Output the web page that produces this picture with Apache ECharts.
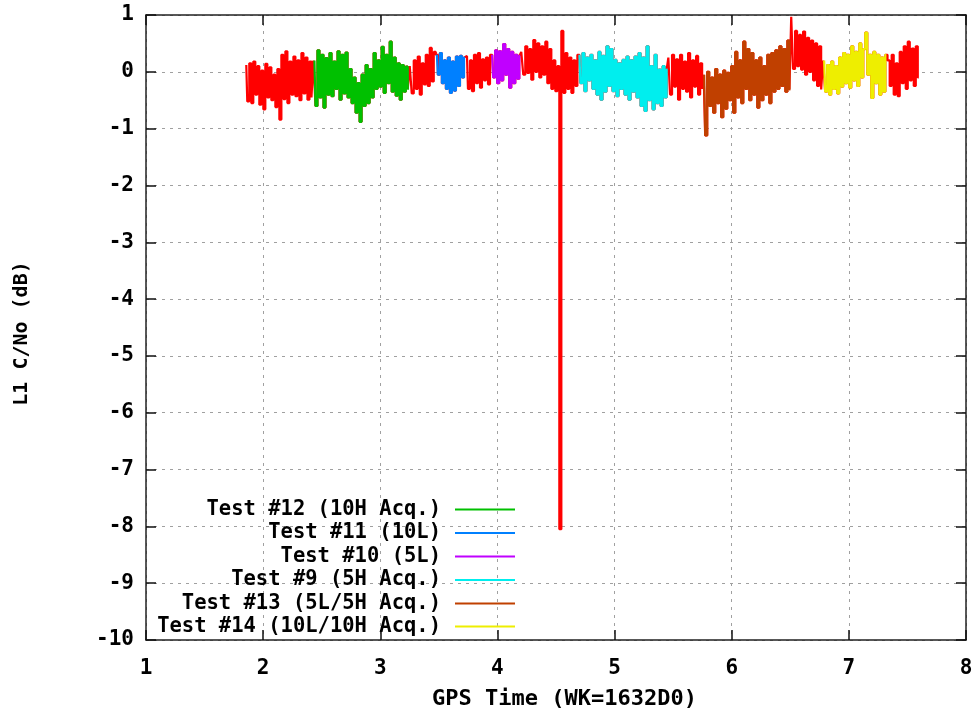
<!DOCTYPE html>
<html>
<head>
<meta charset="utf-8">
<script src="https://cdn.jsdelivr.net/npm/echarts@6/dist/echarts.min.js"></script>
<style>html,body{margin:0;padding:0;background:#fff}#c{width:976px;height:715px}</style>
</head>
<body>
<div id="c"></div>
<script>
// ---- axis ticks ----
const xTicks = [1, 2, 3, 4, 5, 6, 7, 8];
const yTicks = [1, 0, -1, -2, -3, -4, -5, -6, -7, -8, -9, -10];

// ---- series names (legend) ----
const names = ['Test #12 (10H Acq.)', 'Test #11 (10L)', 'Test #10 (5L)', 'Test #9 (5H Acq.)', 'Test #13 (5L/5H Acq.)', 'Test #14 (10L/10H Acq.)'];
const colors = ['#00c000', '#0080ff', '#c000ff', '#00eeee', '#c04000', '#eeee00'];

// ---- time spans (GPS time, days) of each recorded segment ----
const red1Span = [1.856, 2.421];
const greenSpan = [2.438, 3.243];
const red2Span = [3.260, 3.465];
const blueSpan = [3.483, 3.723];
const red3Span = [3.740, 3.945];
const purpleSpan = [3.955, 4.195];
const red4Span = [4.212, 4.691];
const cyanSpan = [4.700, 5.453];
const red5Span = [5.465, 5.756];
const brownSpan = [5.765, 6.501];
const red6Span = [6.515, 6.772];
const yellowSpan = [6.789, 7.320];
const red7Span = [7.340, 7.597];

// ---- L1 C/No values (dB) ----
const red1 = [0.12,-0.52,0.15,-0.55,0.18,-0.40,0.10,-0.58,0.02,-0.66,0.14,-0.45,0.08,-0.50,-0.05,-0.62,0.05,-0.84,0.30,-0.48,0.36,-0.55,0.18,-0.40,0.27,-0.43,0.20,-0.50,0.33,-0.38,0.25,-0.49,0.18,-0.45];
const green = [0.20,-0.60,0.38,-0.45,0.30,-0.63,0.24,-0.40,0.33,-0.43,0.18,-0.30,0.36,-0.49,0.30,-0.38,0.34,-0.45,0.05,-0.55,-0.10,-0.72,-0.20,-0.88,-0.05,-0.60,0.12,-0.55,0.05,-0.45,0.33,-0.30,0.20,-0.26,0.44,-0.37,0.30,-0.20,0.53,-0.35,0.25,-0.42,0.15,-0.49,0.12,-0.35,0.09,-0.30];
const red2 = [0.10,-0.38,0.20,-0.30,0.27,-0.40,0.15,-0.22,0.30,-0.25,0.42,-0.17,0.35];
const blue = [0.30,-0.05,0.33,-0.20,0.20,-0.30,0.25,-0.37,0.18,-0.33,0.27,-0.25,0.28,-0.10,0.25];
const red3 = [0.28,-0.30,0.20,-0.34,0.30,-0.20,0.33,-0.28,0.22,-0.15,0.25,-0.22,0.30];
const purple = [0.30,-0.10,0.38,-0.20,0.36,-0.15,0.49,-0.05,0.40,-0.28,0.35,-0.20,0.30,-0.12,0.28];
const red4 = [0.35,-0.05,0.45,-0.02,0.40,-0.14,0.56,0.00,0.50,-0.10,0.45,-0.05,0.53,-0.20,0.40,-0.30,0.20,-0.34,0.10,-8.05,0.72,-0.37,0.33,-0.30,0.25,-0.37,0.20,-0.25,0.30];
const cyan = [0.30,-0.20,0.33,-0.34,0.25,-0.15,0.30,-0.30,0.20,-0.40,0.35,-0.49,0.28,-0.35,0.45,-0.25,0.40,-0.34,0.21,-0.43,0.15,-0.30,0.21,-0.40,0.27,-0.49,0.20,-0.35,0.27,-0.45,0.33,-0.60,0.25,-0.69,0.45,-0.50,0.10,-0.66,0.30,-0.55,0.04,-0.60,0.10,-0.45,0.04];
const red5 = [0.25,-0.40,0.30,-0.26,0.22,-0.49,0.30,-0.30,0.18,-0.35,0.33,-0.45,0.20,-0.26,0.28,-0.40,0.15,-0.30];
const brown = [-0.05,-1.12,0.00,-0.60,-0.10,-0.72,0.05,-0.55,-0.05,-0.80,0.02,-0.65,-0.02,-0.50,0.10,-0.72,0.35,-0.45,0.20,-0.55,0.53,-0.30,0.40,-0.50,0.33,-0.40,0.20,-0.63,0.25,-0.50,0.10,-0.40,0.30,-0.55,0.33,-0.35,0.38,-0.30,0.45,-0.25,0.40,-0.35,0.55,-0.31];
const red6 = [0.97,0.05,0.72,0.10,0.65,0.04,0.71,-0.05,0.60,0.00,0.55,-0.15,0.50,-0.25,0.45,-0.31];
const yellow = [0.20,-0.35,0.12,-0.40,0.18,-0.30,0.10,-0.38,0.25,-0.26,0.33,-0.20,0.30,-0.28,0.45,-0.15,0.35,-0.25,0.50,-0.10,0.40,0.69,-0.05,0.30,-0.46,0.35,-0.20,0.30,-0.40,0.25,-0.35,0.30];
const red7 = [0.20,-0.25,0.30,-0.40,0.15,-0.43,0.35,-0.20,0.45,-0.30,0.53,-0.15,0.41,-0.25,0.45,-0.10];

// evenly spaced sample times inside a recorded span
function pts(span, vals) {
  const n = vals.length;
  return vals.map((v, i) => [span[0] + i * (span[1] - span[0]) / (n - 1), v]);
}

const greenPts = pts(greenSpan, green);
const bluePts = pts(blueSpan, blue);
const purplePts = pts(purpleSpan, purple);
const cyanPts = pts(cyanSpan, cyan);
const brownPts = pts(brownSpan, brown);
const yellowPts = pts(yellowSpan, yellow);

// full record (drawn in red underneath the highlighted tests)
const allPts = [].concat(
  pts(red1Span, red1), greenPts, pts(red2Span, red2), bluePts, pts(red3Span, red3),
  purplePts, pts(red4Span, red4), cyanPts, pts(red5Span, red5), brownPts,
  pts(red6Span, red6), yellowPts, pts(red7Span, red7)
);

const FONT = 'DejaVu Sans Mono';
const chart = echarts.init(document.getElementById('c'), null, {renderer: 'canvas'});

const overlays = [greenPts, bluePts, purplePts, cyanPts, brownPts, yellowPts];
const LW = 2.2;
const series = [{
  name: 'all', type: 'line', data: allPts, showSymbol: false, symbol: 'none', step: 'middle',
  lineStyle: {color: '#ff0000', width: LW}, itemStyle: {color: '#ff0000'}, z: 2, silent: true
}];
overlays.forEach((d, i) => series.push({
  name: names[i], type: 'line', data: d, showSymbol: false, symbol: 'none', step: 'middle',
  lineStyle: {color: colors[i], width: LW}, itemStyle: {color: colors[i]}, z: 3
}));

const legendCenters = [508, 531.5, 555, 578.5, 602, 625];
const legends = names.map((n, i) => ({
  data: [n], orient: 'vertical', right: 461, top: legendCenters[i] - 9,
  padding: 0, align: 'right', icon: 'rect', itemWidth: 60, itemHeight: 2,
  selectedMode: false,
  textStyle: {fontFamily: FONT, fontWeight: 'bold', fontSize: 20.5, color: '#000', padding: [0, 9, 0, 0]}
}));

const axisLine = {show: true, onZero: false, lineStyle: {color: '#222', width: 1.5}};
const tick = {show: true, inside: true, length: 10, lineStyle: {color: '#111', width: 1.5}};
const grid = {show: true, lineStyle: {color: '#a0a0a0', width: 1, type: [3, 5]}};
const lbl = {fontFamily: FONT, fontWeight: 'bold', fontSize: 21, color: '#000'};

chart.setOption({
  animation: false,
  backgroundColor: '#fff',
  grid: {left: 146, right: 10, top: 15, bottom: 72, containLabel: false},
  legend: legends,
  xAxis: [{
    type: 'value', min: xTicks[0], max: xTicks[xTicks.length - 1], interval: 1,
    position: 'bottom', axisLine, axisTick: tick, splitLine: grid,
    axisLabel: Object.assign({margin: 18}, lbl),
    name: 'GPS Time (WK=1632D0)', nameLocation: 'middle', nameGap: 48,
    nameTextStyle: Object.assign({}, lbl, {fontSize: 22, padding: [0, 0, 0, 17]})
  }, {
    type: 'value', min: xTicks[0], max: xTicks[xTicks.length - 1], interval: 1,
    position: 'top', axisLine, axisTick: tick, splitLine: {show: false}, axisLabel: {show: false}
  }],
  yAxis: [{
    type: 'value', min: yTicks[yTicks.length - 1], max: yTicks[0], interval: 1,
    position: 'left', axisLine, axisTick: tick, splitLine: grid,
    axisLabel: Object.assign({margin: 12}, lbl),
    name: 'L1 C/No (dB)', nameLocation: 'middle', nameGap: 114, nameRotate: 90,
    nameTextStyle: Object.assign({}, lbl, {fontSize: 20, padding: [0, 12, 0, 0]})
  }, {
    type: 'value', min: yTicks[yTicks.length - 1], max: yTicks[0], interval: 1,
    position: 'right', axisLine, axisTick: tick, splitLine: {show: false}, axisLabel: {show: false}
  }],
  series
});
</script>
</body>
</html>
